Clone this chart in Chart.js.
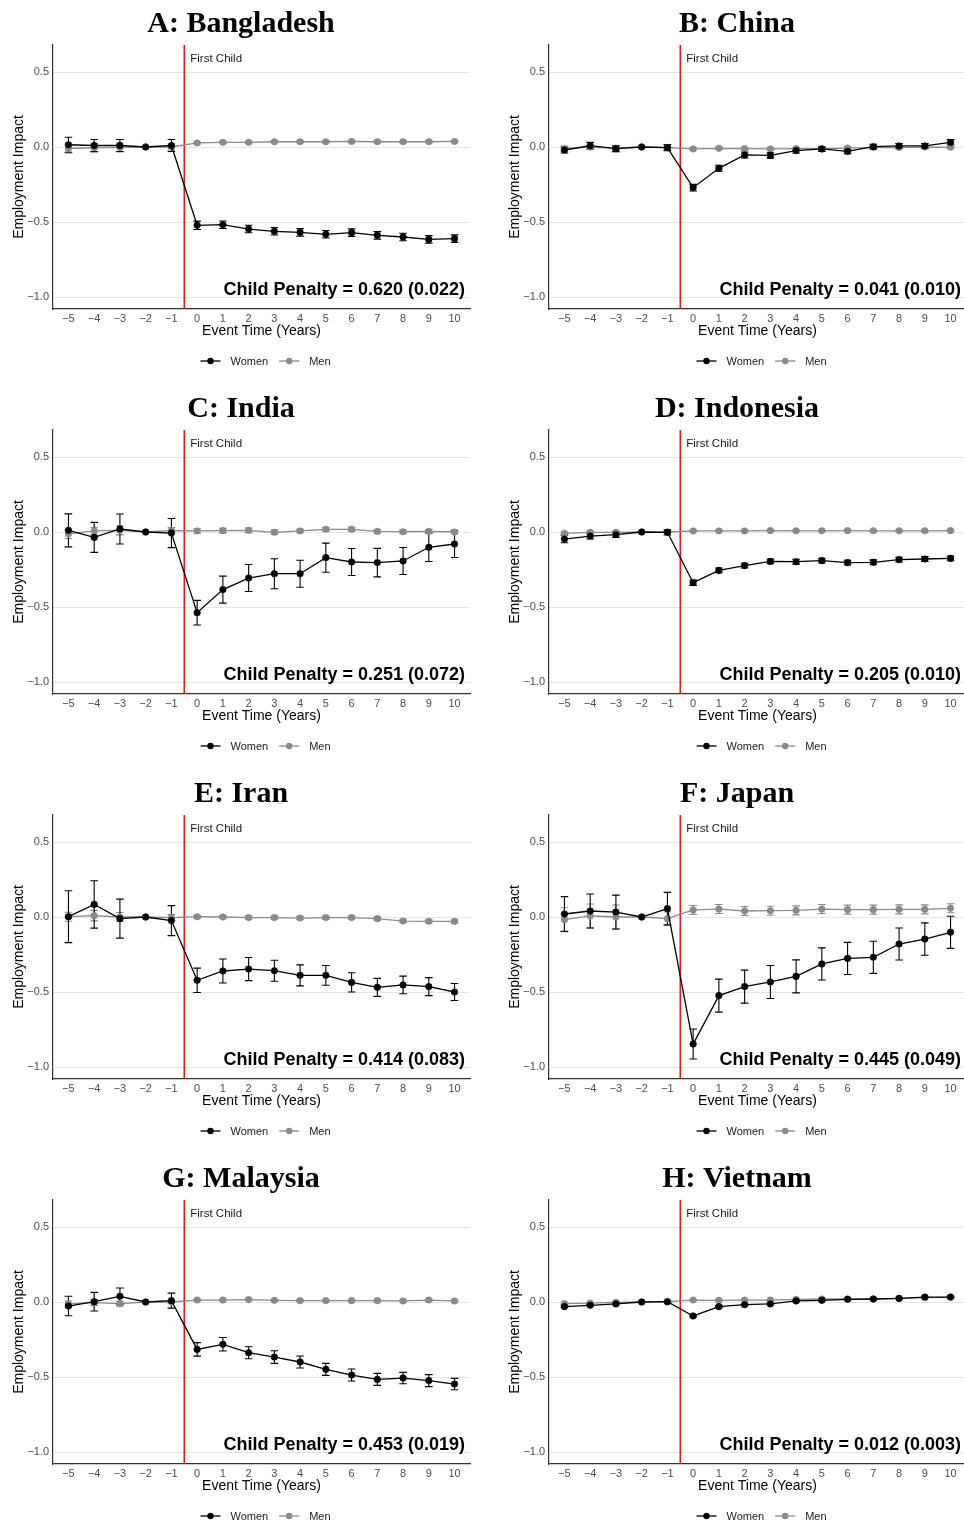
<!DOCTYPE html>
<html>
<head>
<meta charset="utf-8">
<script src="https://cdn.jsdelivr.net/npm/chart.js@4.4.1/dist/chart.umd.min.js"></script>
<style>
  html, body { margin: 0; padding: 0; background: #fff; }
  body { width: 964px; height: 1523px; overflow: hidden; position: relative; }
  canvas { position: absolute; }
</style>
</head>
<body>
<script>
// event time axis
const eventTimes = [-5, -4, -3, -2, -1, 0, 1, 2, 3, 4, 5, 6, 7, 8, 9, 10];
const xTickValues = [-5, -4, -3, -2, -1, 0, 1, 2, 3, 4, 5, 6, 7, 8, 9, 10];
const xTickLabels = ['\u22125', '\u22124', '\u22123', '\u22122', '\u22121', '0', '1', '2', '3', '4', '5', '6', '7', '8', '9', '10'];
const yTickValues = [0.5, 0, -0.5, -1];
const yTickLabels = ['0.5', '0.0', '\u22120.5', '\u22121.0'];
const seriesNames = ['Women', 'Men'];

// A: Bangladesh
const bangladeshWomen = [0.015, 0.01, 0.01, 0, 0.01, -0.522, -0.518, -0.547, -0.562, -0.569, -0.582, -0.571, -0.589, -0.6, -0.616, -0.611];
const bangladeshWomenCI = [0.05, 0.04, 0.04, 0, 0.04, 0.028, 0.025, 0.025, 0.025, 0.025, 0.025, 0.025, 0.025, 0.025, 0.025, 0.025];
const bangladeshMen = [-0.01, -0.005, -0.003, 0, 0, 0.027, 0.031, 0.031, 0.035, 0.035, 0.035, 0.037, 0.035, 0.035, 0.035, 0.037];
const bangladeshMenCI = [0.03, 0.03, 0.03, 0, 0.02, 0.006, 0.006, 0.006, 0.006, 0.006, 0.006, 0.006, 0.006, 0.006, 0.006, 0.006];

// B: China
const chinaWomen = [-0.02, 0.009, -0.011, 0, -0.004, -0.271, -0.142, -0.053, -0.056, -0.024, -0.013, -0.029, 0.002, 0.007, 0.007, 0.031];
const chinaWomenCI = [0.02, 0.022, 0.02, 0, 0.02, 0.022, 0.02, 0.02, 0.018, 0.016, 0.016, 0.016, 0.016, 0.016, 0.016, 0.018];
const chinaMen = [-0.01, -0.002, -0.007, 0, -0.004, -0.013, -0.009, -0.011, -0.013, -0.011, -0.011, -0.007, -0.002, -0.004, 0, -0.002];
const chinaMenCI = [0.015, 0.012, 0.012, 0, 0.012, 0.008, 0.008, 0.008, 0.008, 0.008, 0.008, 0.008, 0.008, 0.008, 0.008, 0.008];

// C: India
const indiaWomen = [0.011, -0.036, 0.02, 0, -0.007, -0.538, -0.384, -0.307, -0.278, -0.278, -0.171, -0.2, -0.204, -0.193, -0.102, -0.08];
const indiaWomenCI = [0.11, 0.1, 0.1, 0, 0.097, 0.082, 0.09, 0.09, 0.1, 0.09, 0.097, 0.09, 0.095, 0.09, 0.095, 0.09];
const indiaMen = [-0.013, 0.007, 0.011, 0, 0.009, 0.007, 0.009, 0.011, -0.002, 0.007, 0.018, 0.018, 0.004, 0.002, 0.004, 0];
const indiaMenCI = [0.03, 0.025, 0.03, 0, 0.02, 0.015, 0.015, 0.015, 0.015, 0.012, 0.012, 0.014, 0.012, 0.012, 0.012, 0.012];

// D: Indonesia
const indonesiaWomen = [-0.047, -0.027, -0.018, 0, -0.002, -0.338, -0.256, -0.224, -0.196, -0.198, -0.191, -0.204, -0.202, -0.184, -0.18, -0.176];
const indonesiaWomenCI = [0.025, 0.02, 0.018, 0, 0.018, 0.018, 0.016, 0.016, 0.016, 0.016, 0.016, 0.016, 0.016, 0.016, 0.016, 0.016];
const indonesiaMen = [-0.009, -0.002, -0.002, 0, 0, 0.007, 0.007, 0.007, 0.009, 0.008, 0.008, 0.009, 0.008, 0.008, 0.008, 0.009];
const indonesiaMenCI = [0.008, 0.006, 0.006, 0, 0.006, 0.004, 0.004, 0.004, 0.004, 0.004, 0.004, 0.004, 0.004, 0.004, 0.004, 0.004];

// E: Iran
const iranWomen = [0.002, 0.084, -0.011, 0, -0.024, -0.422, -0.36, -0.347, -0.358, -0.389, -0.389, -0.436, -0.469, -0.453, -0.464, -0.5];
const iranWomenCI = [0.173, 0.158, 0.13, 0, 0.1, 0.081, 0.08, 0.077, 0.07, 0.07, 0.066, 0.064, 0.06, 0.059, 0.06, 0.057];
const iranMen = [0.002, 0.009, 0, 0, -0.004, 0.002, 0, -0.004, -0.004, -0.007, -0.004, -0.004, -0.011, -0.027, -0.029, -0.029];
const iranMenCI = [0.03, 0.035, 0.03, 0, 0.02, 0.01, 0.01, 0.01, 0.01, 0.01, 0.01, 0.01, 0.01, 0.01, 0.01, 0.01];

// F: Japan
const japanWomen = [0.02, 0.04, 0.033, 0, 0.056, -0.847, -0.524, -0.464, -0.433, -0.396, -0.313, -0.276, -0.269, -0.18, -0.147, -0.102];
const japanWomenCI = [0.116, 0.113, 0.113, 0, 0.108, 0.1, 0.11, 0.11, 0.11, 0.11, 0.107, 0.107, 0.107, 0.107, 0.108, 0.107];
const japanMen = [-0.018, 0.007, 0, 0, -0.011, 0.047, 0.053, 0.04, 0.042, 0.044, 0.053, 0.049, 0.049, 0.051, 0.051, 0.058];
const japanMenCI = [0.08, 0.08, 0.08, 0, 0.045, 0.03, 0.03, 0.03, 0.03, 0.03, 0.03, 0.03, 0.03, 0.03, 0.03, 0.03];

// G: Malaysia
const malaysiaWomen = [-0.027, 0.002, 0.038, 0, 0.009, -0.316, -0.282, -0.338, -0.367, -0.4, -0.449, -0.487, -0.516, -0.507, -0.524, -0.547];
const malaysiaWomenCI = [0.065, 0.062, 0.055, 0, 0.05, 0.045, 0.045, 0.04, 0.042, 0.04, 0.04, 0.04, 0.04, 0.038, 0.04, 0.038];
const malaysiaMen = [-0.013, -0.004, -0.011, 0, 0, 0.013, 0.013, 0.016, 0.011, 0.009, 0.009, 0.009, 0.009, 0.007, 0.013, 0.007];
const malaysiaMenCI = [0.02, 0.02, 0.015, 0, 0.01, 0.006, 0.006, 0.006, 0.006, 0.006, 0.006, 0.006, 0.006, 0.006, 0.006, 0.006];

// H: Vietnam
const vietnamWomen = [-0.031, -0.022, -0.013, 0, 0.002, -0.093, -0.031, -0.018, -0.013, 0.007, 0.011, 0.018, 0.02, 0.024, 0.033, 0.033];
const vietnamWomenCI = [0.006, 0.005, 0.005, 0, 0.004, 0.005, 0.005, 0.005, 0.005, 0.005, 0.005, 0.005, 0.005, 0.005, 0.005, 0.005];
const vietnamMen = [-0.011, -0.007, -0.002, 0, 0.002, 0.013, 0.011, 0.013, 0.013, 0.018, 0.02, 0.02, 0.02, 0.024, 0.029, 0.031];
const vietnamMenCI = [0.004, 0.004, 0.004, 0, 0.004, 0.004, 0.004, 0.004, 0.004, 0.004, 0.004, 0.004, 0.004, 0.004, 0.004, 0.004];

const panelTitles = ['A: Bangladesh', 'B: China', 'C: India', 'D: Indonesia', 'E: Iran', 'F: Japan', 'G: Malaysia', 'H: Vietnam'];
const penaltyLabels = [
  'Child Penalty = 0.620 (0.022)', 'Child Penalty = 0.041 (0.010)',
  'Child Penalty = 0.251 (0.072)', 'Child Penalty = 0.205 (0.010)',
  'Child Penalty = 0.414 (0.083)', 'Child Penalty = 0.445 (0.049)',
  'Child Penalty = 0.453 (0.019)', 'Child Penalty = 0.012 (0.003)'
];

const panels = [
  [bangladeshWomen, bangladeshWomenCI, bangladeshMen, bangladeshMenCI],
  [chinaWomen, chinaWomenCI, chinaMen, chinaMenCI],
  [indiaWomen, indiaWomenCI, indiaMen, indiaMenCI],
  [indonesiaWomen, indonesiaWomenCI, indonesiaMen, indonesiaMenCI],
  [iranWomen, iranWomenCI, iranMen, iranMenCI],
  [japanWomen, japanWomenCI, japanMen, japanMenCI],
  [malaysiaWomen, malaysiaWomenCI, malaysiaMen, malaysiaMenCI],
  [vietnamWomen, vietnamWomenCI, vietnamMen, vietnamMenCI]
];

// layout
const SANS = '"Liberation Sans", Arial, sans-serif';
const SERIF = '"Liberation Serif", "Times New Roman", serif';
const womenColor = '#000000';
const menColor = '#8a8a8a';
const axisColor = '#333333';
const colLeft = [0, 482];
const colWidth = [482, 512];
const plotLefts = [53, 67];
const plotRights = [470, 484];
const rowHeight = 385;

Chart.defaults.font.family = SANS;

// error bars under the points
const errorBars = {
  id: 'errorBars',
  beforeDatasetsDraw(chart) {
    const ctx = chart.ctx;
    const xs = chart.scales.x, ys = chart.scales.y;
    for (let d = chart.data.datasets.length - 1; d >= 0; d--) {
      const ds = chart.data.datasets[d];
      ctx.save();
      ctx.strokeStyle = ds.borderColor;
      ctx.lineWidth = 1.1;
      ds.data.forEach((p, i) => {
        const ci = ds.ci[i];
        if (!ci) return;
        const px = xs.getPixelForValue(p.x);
        const top = ys.getPixelForValue(p.y + ci);
        const bot = ys.getPixelForValue(p.y - ci);
        ctx.beginPath();
        ctx.moveTo(px, top); ctx.lineTo(px, bot);
        ctx.moveTo(px - 3.8, top); ctx.lineTo(px + 3.8, top);
        ctx.moveTo(px - 3.8, bot); ctx.lineTo(px + 3.8, bot);
        ctx.stroke();
      });
      ctx.restore();
    }
  }
};

// red event line, titles, labels and legend
const decor = {
  id: 'decor',
  beforeDatasetsDraw(chart) {
    const ctx = chart.ctx, a = chart.chartArea;
    const rx = chart.scales.x.getPixelForValue(-0.5);
    ctx.save();
    ctx.strokeStyle = '#e01b1b';
    ctx.lineWidth = 1.6;
    ctx.beginPath();
    ctx.moveTo(rx, a.top); ctx.lineTo(rx, a.bottom);
    ctx.stroke();
    ctx.restore();
  },
  afterDraw(chart, args, opts) {
    const ctx = chart.ctx, a = chart.chartArea;
    const rx = chart.scales.x.getPixelForValue(-0.5);
    const cx = (a.left + a.right) / 2;
    ctx.save();
    ctx.fillStyle = '#000';
    ctx.font = 'bold 30px ' + SERIF;
    ctx.textAlign = 'center';
    ctx.textBaseline = 'alphabetic';
    ctx.fillText(opts.title, a.left + 188, 32);

    ctx.font = '11.5px ' + SANS;
    ctx.textAlign = 'left';
    ctx.fillStyle = '#1a1a1a';
    ctx.fillText('First Child', rx + 6, 62);

    ctx.font = 'bold 18px ' + SANS;
    ctx.textAlign = 'right';
    ctx.fillStyle = '#000';
    ctx.fillText(opts.penalty, a.right - 5, 295);

    ctx.font = '14px ' + SANS;
    ctx.textAlign = 'center';
    ctx.fillText('Event Time (Years)', cx, 335);

    ctx.save();
    ctx.translate(a.left - 30.5, (a.top + a.bottom) / 2);
    ctx.rotate(-Math.PI / 2);
    ctx.fillText('Employment Impact', 0, 0);
    ctx.restore();

    // legend
    ctx.font = '11px ' + SANS;
    ctx.textAlign = 'left';
    ctx.textBaseline = 'middle';
    let lx = cx - 61;
    const ly = 361;
    [womenColor, menColor].forEach((col, k) => {
      ctx.strokeStyle = col;
      ctx.fillStyle = col;
      ctx.lineWidth = 1.3;
      ctx.beginPath();
      ctx.moveTo(lx, ly); ctx.lineTo(lx + 20, ly);
      ctx.stroke();
      ctx.beginPath();
      ctx.arc(lx + 10, ly, 3.2, 0, Math.PI * 2);
      ctx.fill();
      ctx.fillStyle = '#1a1a1a';
      ctx.fillText(seriesNames[k], lx + 30, ly + 0.5);
      lx += 30 + ctx.measureText(seriesNames[k]).width + 11;
    });
    ctx.restore();
  }
};

panels.forEach((p, n) => {
  const col = n % 2, row = Math.floor(n / 2);
  const canvas = document.createElement('canvas');
  canvas.width = colWidth[col];
  canvas.height = rowHeight;
  canvas.style.left = colLeft[col] + 'px';
  canvas.style.top = (row * rowHeight) + 'px';
  canvas.style.width = colWidth[col] + 'px';
  canvas.style.height = rowHeight + 'px';
  document.body.appendChild(canvas);

  const plotLeft = plotLefts[col];
  const lineSet = (name, vals, ci, color) => ({
    label: name,
    data: eventTimes.map((t, i) => ({ x: t, y: vals[i] })),
    ci: ci,
    borderColor: color,
    backgroundColor: color,
    borderWidth: 1.3,
    pointRadius: 3.3,
    pointBorderWidth: 0.5,
    pointBorderColor: color,
    pointBackgroundColor: color,
    tension: 0
  });

  new Chart(canvas, {
    type: 'line',
    data: {
      datasets: [
        lineSet(seriesNames[0], p[0], p[1], womenColor),
        lineSet(seriesNames[1], p[2], p[3], menColor)
      ]
    },
    options: {
      responsive: false,
      animation: false,
      devicePixelRatio: 1,
      layout: { padding: { top: 45, right: colWidth[col] - plotRights[col], bottom: 0, left: 0 } },
      plugins: {
        legend: { display: false },
        title: { display: false },
        tooltip: { enabled: false },
        decor: { title: panelTitles[n], penalty: penaltyLabels[n] }
      },
      scales: {
        x: {
          type: 'linear',
          min: -5.6,
          max: 10.6,
          afterBuildTicks: s => { s.ticks = xTickValues.map(v => ({ value: v })); },
          afterFit: s => { s.height = 76; },
          grid: { display: false, drawTicks: false },
          border: { display: true, color: axisColor, width: 1.2 },
          ticks: {
            callback: v => xTickLabels[xTickValues.indexOf(v)],
            color: '#4d4d4d',
            font: { size: 11 },
            padding: 3,
            maxRotation: 0,
            autoSkip: false
          }
        },
        y: {
          type: 'linear',
          min: -1.08,
          max: 0.68,
          afterBuildTicks: s => { s.ticks = yTickValues.map(v => ({ value: v })); },
          afterFit: s => { s.width = plotLeft; },
          grid: { color: '#e6e6e6', lineWidth: 1, drawTicks: false },
          border: { display: true, color: axisColor, width: 1.2 },
          ticks: {
            callback: v => yTickLabels[yTickValues.indexOf(v)],
            color: '#4d4d4d',
            font: { size: 11 },
            padding: 4
          }
        }
      }
    },
    plugins: [errorBars, decor]
  });
});
</script>
</body>
</html>
